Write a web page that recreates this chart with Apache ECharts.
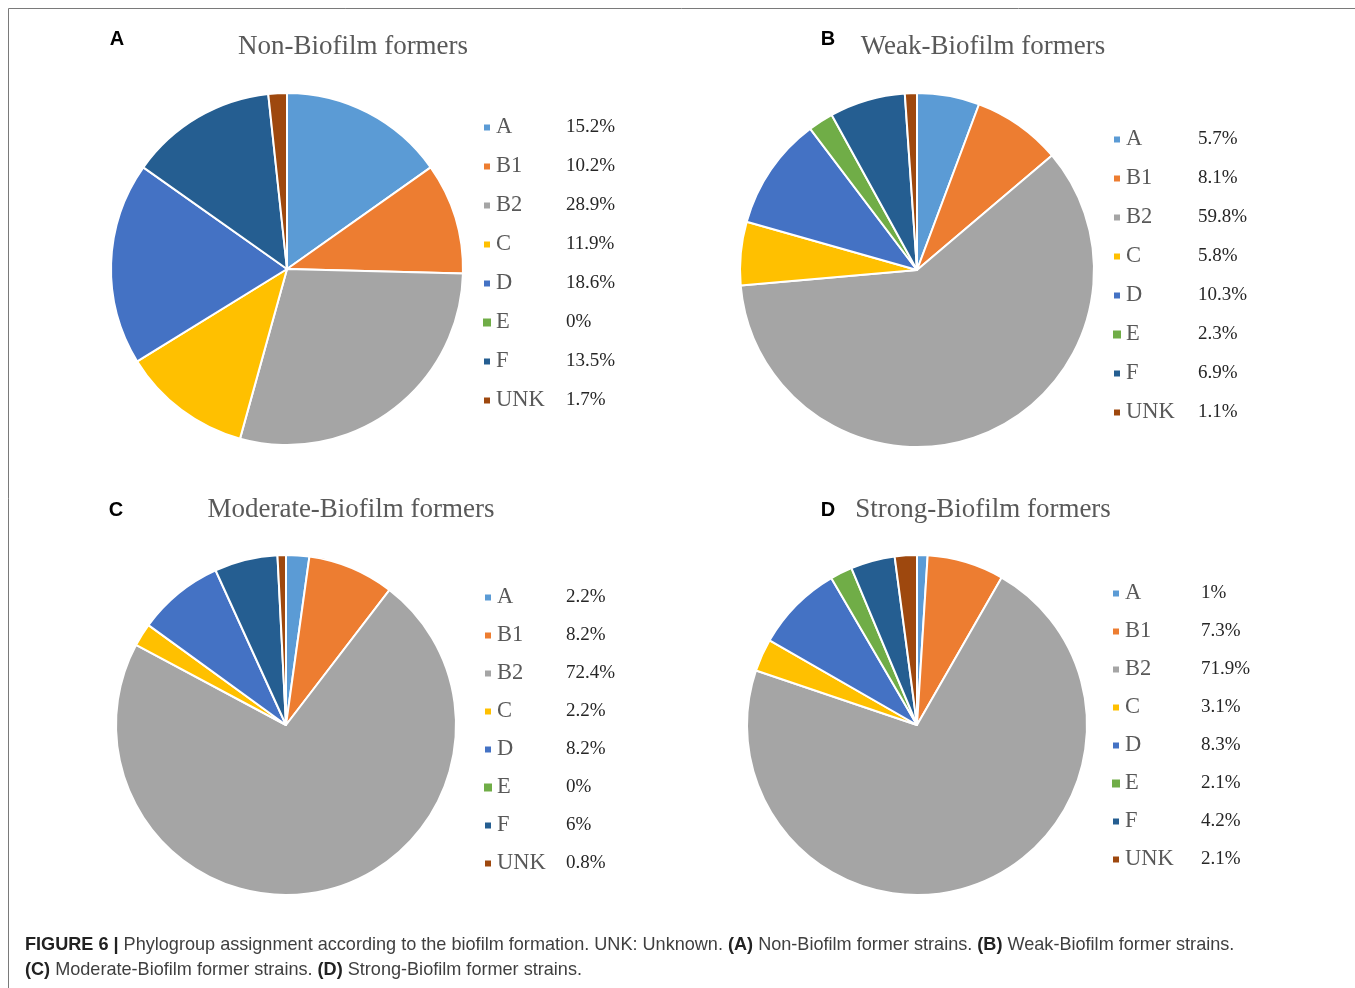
<!DOCTYPE html>
<html><head><meta charset="utf-8">
<script src="https://cdn.jsdelivr.net/npm/echarts@6.0.0/dist/echarts.min.js"></script>
<style>html,body{margin:0;padding:0;background:#fff;overflow:hidden}#c{width:1355px;height:988px}</style>
</head><body><div id="c"></div>
<script>
// ---- data ----
const categories = ['A', 'B1', 'B2', 'C', 'D', 'E', 'F', 'UNK'];
const nonBiofilm = [15.2, 10.2, 28.9, 11.9, 18.6, 0, 13.5, 1.7];
const weakBiofilm = [5.7, 8.1, 59.8, 5.8, 10.3, 2.3, 6.9, 1.1];
const moderateBiofilm = [2.2, 8.2, 72.4, 2.2, 8.2, 0, 6, 0.8];
const strongBiofilm = [1, 7.3, 71.9, 3.1, 8.3, 2.1, 4.2, 2.1];
const panelTitles = ['Non-Biofilm formers', 'Weak-Biofilm formers', 'Moderate-Biofilm formers', 'Strong-Biofilm formers'];
const panelLetters = ['A', 'B', 'C', 'D'];
const captionLine1 = '{b|FIGURE 6 |} Phylogroup assignment according to the biofilm formation. UNK: Unknown. {b|(A)} Non-Biofilm former strains. {b|(B)} Weak-Biofilm former strains.';
const captionLine2 = '{b|(C)} Moderate-Biofilm former strains. {b|(D)} Strong-Biofilm former strains.';

// ---- styles / layout ----
const palette = ['#5B9BD5', '#ED7D31', '#A5A5A5', '#FFC000', '#4472C4', '#70AD47', '#255E91', '#9E480E'];
const panelValues = [nonBiofilm, weakBiofilm, moderateBiofilm, strongBiofilm];
const layout = [
  {center: [287, 269], r: 176, title: [353, 47], letter: [117, 39], legend: [482, 125], nameW: 70, gap: 39},
  {center: [917, 270], r: 177, title: [983, 47], letter: [828, 39], legend: [1112, 137], nameW: 72, gap: 39},
  {center: [286, 725], r: 170, title: [351, 510], letter: [116, 510], legend: [483, 595], nameW: 69, gap: 38},
  {center: [917, 725], r: 170, title: [983, 510], letter: [828, 510], legend: [1111, 591], nameW: 76, gap: 38}
];
const serif = '"Liberation Serif", "Times New Roman", serif';
const sans = '"Liberation Sans", Arial, Helvetica, sans-serif';
const fmt = v => String(v) + '%';
const LH = 22;

const series = [], legends = [], graphics = [];
panelValues.forEach((vals, p) => {
  const L = layout[p];
  series.push({
    type: 'pie',
    center: L.center,
    radius: [0, L.r],
    startAngle: 90,
    clockwise: true,
    label: {show: false},
    labelLine: {show: false},
    emphasis: {scale: false},
    itemStyle: {borderColor: '#ffffff', borderWidth: 2},
    data: categories.map((c, i) => ({
      name: c, value: vals[i],
      itemStyle: {color: palette[i], borderWidth: vals[i] === 0 ? 0 : 2}
    }))
  });
  legends.push({
    orient: 'vertical',
    left: L.legend[0],
    top: L.legend[1] - 9,
    padding: 0,
    icon: 'rect',
    itemWidth: 8,
    itemHeight: 8,
    itemGap: L.gap - 23,
    itemTextGap: 7,
    selectedMode: false,
    data: categories.map((c, i) => ({name: c, itemStyle: {color: palette[i]}})),
    formatter: name => {
      const i = categories.indexOf(name);
      return '{n|' + name + '}{v|' + fmt(vals[i]) + '}';
    },
    textStyle: {
      rich: {
        n: {fontFamily: serif, fontSize: 22.5, color: '#595959', width: L.nameW, lineHeight: LH},
        v: {fontFamily: serif, fontSize: 19, color: '#262626', lineHeight: LH}
      }
    }
  });
  graphics.push({
    type: 'text', x: L.title[0], y: L.title[1],
    style: {text: panelTitles[p], font: '27px ' + serif, fill: '#595959', align: 'center', verticalAlign: 'middle', textAlign: 'center', textVerticalAlign: 'middle'}
  });
  graphics.push({
    type: 'text', x: L.letter[0], y: L.letter[1],
    style: {text: panelLetters[p], font: 'bold 20px ' + sans, fill: '#000000', align: 'center', verticalAlign: 'middle', textAlign: 'center', textVerticalAlign: 'middle'}
  });
});

// frame
graphics.push({type: 'line', shape: {x1: 8.5, y1: 8.5, x2: 1355, y2: 8.5}, style: {stroke: '#7a7a7a', lineWidth: 1}});
graphics.push({type: 'line', shape: {x1: 8.5, y1: 8.5, x2: 8.5, y2: 988}, style: {stroke: '#7a7a7a', lineWidth: 1}});

// caption
[captionLine1, captionLine2].forEach((t, k) => {
  graphics.push({
    type: 'text', x: 25, y: 945 + k * 25,
    style: {
      text: t, font: '18.1px ' + sans, fill: '#3f3f3f', align: 'left', verticalAlign: 'middle', textAlign: 'left', textVerticalAlign: 'middle',
      rich: {b: {fontWeight: 'bold', fontFamily: sans, fontSize: 18.1, fill: '#222222', color: '#222222'}}
    }
  });
});

const chart = echarts.init(document.getElementById('c'), null, {renderer: 'canvas'});
chart.setOption({
  animation: false,
  color: palette,
  legend: legends,
  series: series,
  graphic: graphics
});
</script>
</body></html>
